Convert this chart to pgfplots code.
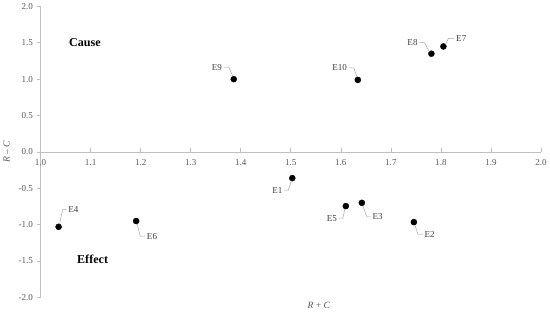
\documentclass[border=0pt]{standalone}
\usepackage{pgfplots}
\pgfplotsset{compat=1.18}
\usepackage{fontspec}
\setmainfont{Liberation Serif}
\definecolor{axgray}{HTML}{BFBFBF}
\definecolor{tickgray}{HTML}{595959}
\definecolor{labgray}{HTML}{404040}
\definecolor{leadgray}{HTML}{A6A6A6}

\pgfplotstableread{
x      y
1.503  -0.36
1.746  -0.965
1.642  -0.70
1.036  -1.03
1.610  -0.745
1.191  -0.95
1.805   1.45
1.781   1.35
1.386   1.00
1.634   0.99
}\dematel

\begin{document}
\begin{tikzpicture}[
    leader/.style={draw=leadgray, line width=0.5pt},
    lab/.style={text=labgray, font=\fontsize{9}{10}\selectfont, inner sep=1.5pt}
  ]
\begin{axis}[
    scale only axis,
    width=497pt, height=289pt,
    xmin=1, xmax=2, ymin=-2, ymax=2,
    axis x line=middle, axis y line=left,
    axis line style={-, draw=axgray, line width=0.6pt},
    xtick={1.0,1.1,1.2,1.3,1.4,1.5,1.6,1.7,1.8,1.9,2.0},
    ytick={-2.0,-1.5,-1.0,-0.5,0.0,0.5,1.0,1.5,2.0},
    hide obscured x ticks=false, hide obscured y ticks=false,
    major tick length=4pt,
    tick style={draw=axgray, line width=0.6pt},
    xtick align=inside, ytick align=outside,
    tick label style={text=tickgray, font=\fontsize{9}{10}\selectfont},
    x tick label style={yshift=-4pt},
    /pgf/number format/.cd, fixed, fixed zerofill, precision=1, assume math mode=true,
    /pgfplots/.cd,
    xlabel={\textit{R} + \textit{C}},
    ylabel={\textit{R} – \textit{C}},
    xlabel style={at={(axis description cs:0.556,0)}, anchor=north, yshift=-1pt,
      text=tickgray, font=\fontsize{9.5}{10}\selectfont},
    ylabel style={at={(axis description cs:-0.068,0.5)}, anchor=center,
      text=tickgray, font=\fontsize{9.5}{10}\selectfont},
    clip=false,
  ]
  \addplot[only marks, mark=*, mark size=3pt, draw=black, fill=black] table[x=x, y=y] {\dematel};
  \coordinate (e1) at (axis cs:1.503,-0.36);
  \coordinate (e2) at (axis cs:1.746,-0.965);
  \coordinate (e3) at (axis cs:1.642,-0.70);
  \coordinate (e4) at (axis cs:1.036,-1.03);
  \coordinate (e5) at (axis cs:1.610,-0.745);
  \coordinate (e6) at (axis cs:1.191,-0.95);
  \coordinate (e7) at (axis cs:1.805,1.45);
  \coordinate (e8) at (axis cs:1.781,1.35);
  \coordinate (e9) at (axis cs:1.386,1.00);
  \coordinate (e10) at (axis cs:1.634,0.99);
  \node[anchor=west, font=\bfseries\fontsize{12}{13}\selectfont] at (axis cs:1.05,1.50) {Cause};
  \node[anchor=west, font=\bfseries\fontsize{12}{13}\selectfont] at (axis cs:1.066,-1.476) {Effect};
\end{axis}
\draw[leader] ([shift={(-1pt,-3pt)}]e1) -- ++(-3pt,-9pt) -- ++(-4pt,0) node[lab,left]{E1};
\draw[leader] ([shift={(1pt,-3pt)}]e2) -- ++(3pt,-9pt) -- ++(5pt,0) node[lab,right]{E2};
\draw[leader] ([shift={(1pt,-3pt)}]e3) -- ++(4pt,-11pt) -- ++(4pt,0) node[lab,right]{E3};
\draw[leader] ([shift={(1pt,3pt)}]e4) -- ++(3pt,14pt) -- ++(4pt,0) node[lab,right]{E4};
\draw[leader] ([shift={(-1pt,-3pt)}]e5) -- ++(-2pt,-9pt) -- ++(-4pt,0) node[lab,left]{E5};
\draw[leader] ([shift={(1pt,-3pt)}]e6) -- ++(3pt,-12pt) -- ++(5pt,0) node[lab,right]{E6};
\draw[leader] ([shift={(2pt,2pt)}]e7) -- ++(3pt,6pt) -- ++(6pt,0) node[lab,right]{E7};
\draw[leader] ([shift={(-2pt,2pt)}]e8) -- ++(-5pt,9pt) -- ++(-5pt,0) node[lab,left]{E8};
\draw[leader] ([shift={(-1pt,3pt)}]e9) -- ++(-4pt,9pt) -- ++(-5pt,0) node[lab,left]{E9};
\draw[leader] ([shift={(-1pt,3pt)}]e10) -- ++(-3pt,9pt) -- ++(-5pt,0) node[lab,left]{E10};
\end{tikzpicture}
\end{document}
